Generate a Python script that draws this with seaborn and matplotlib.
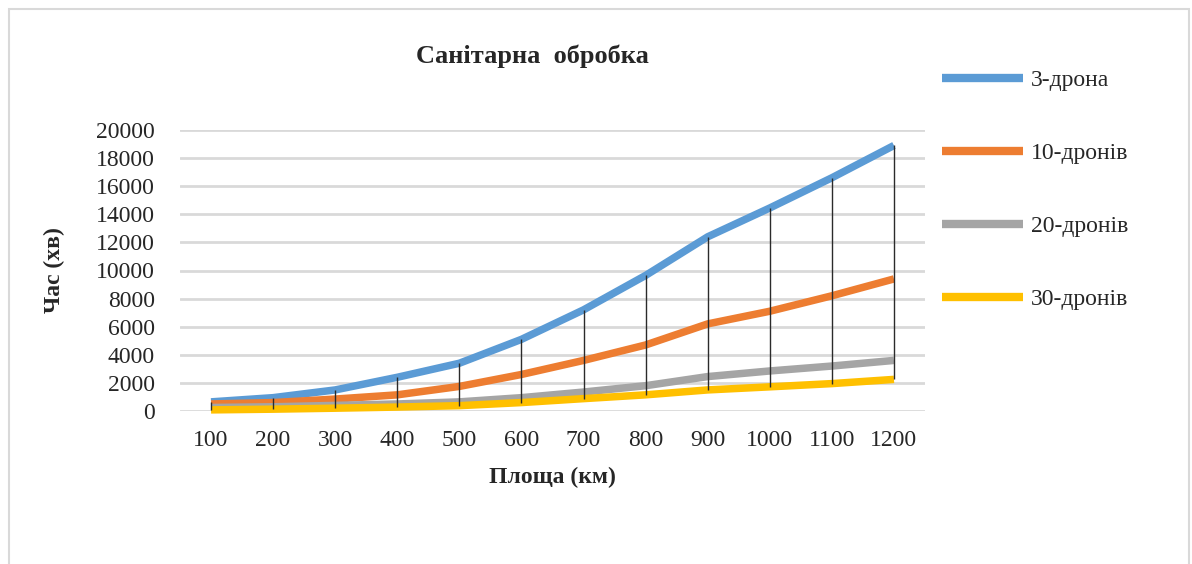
import numpy as np
import pandas as pd
import matplotlib
matplotlib.use("Agg")
import matplotlib.pyplot as plt
import matplotlib.patches as mpatches
import seaborn as sns

areas = [100, 200, 300, 400, 500, 600, 700, 800, 900, 1000, 1100, 1200]
drones_3 = [650, 950, 1500, 2400, 3400, 5100, 7200, 9650, 12400, 14450, 16600, 18900]
drones_10 = [500, 600, 850, 1150, 1750, 2600, 3600, 4700, 6200, 7100, 8200, 9400]
drones_20 = [250, 300, 400, 500, 650, 950, 1350, 1800, 2450, 2850, 3200, 3600]
drones_30 = [80, 130, 200, 280, 380, 600, 880, 1150, 1500, 1720, 1950, 2250]
series_names = ["3-дрона", "10-дронів", "20-дронів", "30-дронів"]
colors = ["#5B9BD5", "#ED7D31", "#A5A5A5", "#FFC000"]
y_ticks = list(range(0, 20001, 2000))

sns.set_theme(style="white")
plt.rcParams['font.family'] = ['Liberation Serif', 'DejaVu Serif']

all_series = [drones_3, drones_10, drones_20, drones_30]
rows = []
for name, vals in zip(series_names, all_series):
    for i, v in enumerate(vals):
        rows.append({"pos": i, "value": v, "series": name})
df = pd.DataFrame(rows)

fig = plt.figure(figsize=(11.92, 5.64), dpi=100)
ax = fig.add_axes([180/1192, 153/564, 745/1192, 281/564])

sns.lineplot(data=df, x="pos", y="value", hue="series", hue_order=series_names,
             palette=colors, linewidth=5.4, ax=ax, sort=False, legend=True)
for ln in ax.get_lines():
    ln.set_clip_on(False)
    ln.set_solid_capstyle("butt")

arr = np.array(all_series)
ax.vlines(np.arange(len(areas)), arr.min(axis=0), arr.max(axis=0),
          colors="#2b2b2b", linewidth=1.0, zorder=5, clip_on=False)

ax.set_xlim(-0.5, len(areas) - 0.5)
ax.set_ylim(0, 20000)
ax.set_yticks(y_ticks)
ax.set_yticklabels([str(t) for t in y_ticks], fontsize=17)
ax.set_xticks(range(len(areas)))
ax.set_xticklabels([str(a) for a in areas], fontsize=17)
ax.tick_params(axis="y", length=0, pad=18)
ax.tick_params(axis="x", length=0, pad=14)
ax.yaxis.grid(True, color="#d9d9d9", linewidth=2)
ax.xaxis.grid(False)
ax.set_axisbelow(True)
for s in ax.spines.values():
    s.set_visible(False)

ax.set_xlabel("Площа (км)", fontsize=17, fontweight="bold", labelpad=11)
ax.set_ylabel("Час (хв)", fontsize=17, fontweight="bold", labelpad=22)

handles, labels = ax.get_legend_handles_labels()
ax.get_legend().remove()
for h in handles:
    h.set_linewidth(6)
fig.legend(handles, labels, loc="upper left",
           bbox_to_anchor=(921/1192, 1 - 48/564), bbox_transform=fig.transFigure,
           frameon=False, fontsize=17, handlelength=3.4, handletextpad=0.35,
           labelspacing=2.19)

fig.text(532/1192, 1 - 56/564, "Санітарна  обробка", ha="center", va="center",
         fontsize=19, fontweight="bold")

rect = mpatches.Rectangle((9/1192, -0.05), 1180/1192, 1 - 9/564 + 0.05,
                          transform=fig.transFigure, fill=False,
                          edgecolor="#d9d9d9", linewidth=1.5)
fig.patches.append(rect)

fig.savefig("out.png", dpi=100, facecolor="white")
